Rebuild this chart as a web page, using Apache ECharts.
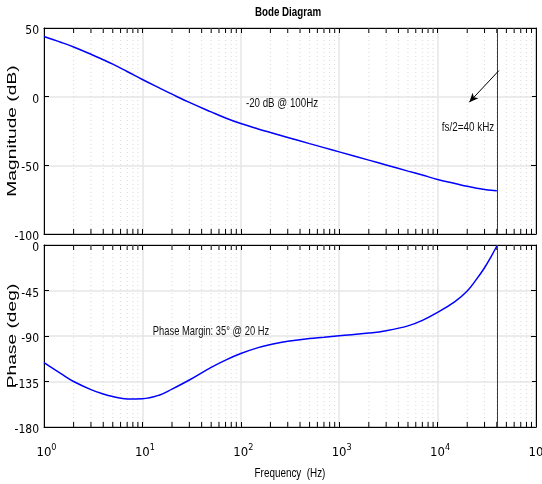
<!DOCTYPE html>
<html>
<head>
<meta charset="utf-8">
<title>Bode Diagram</title>
<script src="https://cdn.jsdelivr.net/npm/echarts@6/dist/echarts.min.js"></script>
<style>
  html, body { margin: 0; padding: 0; background: #fff; }
  #chart { width: 542px; height: 484px; }
</style>
</head>
<body>
<div id="chart"></div>
<script>
// Open-loop response of the compensated converter loop
const freqHz = [1, 1.5, 2, 3, 4, 5, 7, 10, 15, 20, 30, 50, 70, 100, 150, 200, 300, 500, 700,
  1000, 2000, 3000, 5000, 7000, 10000, 15000, 20000, 25000, 30000, 35000, 40000];
const magnitudeDb = [43.8, 39.5, 36.2, 30.9, 26.9, 23.7, 18.3, 12.5, 6.2, 1.8, -4.2, -11.1,
  -15.5, -19.6, -23.5, -26.1, -29.7, -34.2, -37.1, -40.2, -46.2, -49.7, -54.2, -57.1, -60.3,
  -63.2, -65.3, -66.7, -67.6, -68.2, -68.5];
const phaseDeg = [-116.4, -127.5, -135, -143, -147.3, -149.8, -152.2, -152, -148.3, -142.5,
  -133.5, -121, -113.8, -107.3, -101.5, -98.5, -95.2, -92.5, -91.2, -89.7, -87.1, -84.8, -80,
  -74.5, -66.6, -56, -45.5, -33.5, -22.5, -11.5, -1];

// Half the sampling rate
const nyquistHz = 40000;
// Minor log-grid positions (2..9 in every decade)
const minorFreqs = [];
for (let d = 1; d <= 10000; d *= 10) {
  for (let k = 2; k <= 9; k++) minorFreqs.push(k * d);
}

const titleText = 'Bode Diagram';
const magName = 'Magnitude (dB)';
const phaseName = 'Phase (deg)';
const freqName = 'Frequency  (Hz)';
const noteSlope = '-20 dB @ 100Hz';
const noteNyquist = 'fs/2=40 kHz';
const notePhase = 'Phase Margin: 35\u00b0 @ 20 Hz';

const tickFont = '"Liberation Sans Narrow", "DejaVu Sans Condensed", sans-serif';
const textFont = '"Liberation Sans", Arial, sans-serif';

const chart = echarts.init(document.getElementById('chart'), null, { renderer: 'canvas' });

const majorGrid = { show: true, lineStyle: { color: '#e6e6e6', width: 1.5 } };
const tick = { show: true, inside: true, length: 5, lineStyle: { color: '#000', width: 1 } };
const line = { show: true, onZero: false, lineStyle: { color: '#000', width: 1 } };

function logAxis(gridIndex, position, extra) {
  return Object.assign({
    type: 'log', logBase: 10, min: 1, max: 100000, gridIndex, position,
    axisLine: line, axisTick: tick, axisLabel: { show: false },
    splitLine: { show: false }, minorTick: { show: false }
  }, extra || {});
}
function valAxis(gridIndex, position, min, max, interval, extra) {
  return Object.assign({
    type: 'value', gridIndex, position, min, max, interval,
    axisLine: line, axisTick: tick, axisLabel: { show: false },
    splitLine: { show: false }
  }, extra || {});
}

// Value labels sit a little below their ticks
const yLabel = {
  show: true, fontFamily: tickFont, fontSize: 12, color: '#000', margin: 5,
  verticalAlign: 'top', lineHeight: 6
};

// Dotted minor grid plus inward minor ticks on top and bottom edges
function minorRender(params, api) {
  const cs = params.coordSys;
  const x = api.coord([api.value(0), api.value(1)])[0];
  const top = cs.y, bottom = cs.y + cs.height;
  return {
    type: 'group',
    children: [
      { type: 'line', shape: { x1: x, y1: top, x2: x, y2: bottom },
        style: { stroke: '#dadada', lineWidth: 1, lineDash: [1, 3] } },
      { type: 'line', shape: { x1: x, y1: top, x2: x, y2: top + 5 },
        style: { stroke: '#000', lineWidth: 1 } },
      { type: 'line', shape: { x1: x, y1: bottom, x2: x, y2: bottom - 5 },
        style: { stroke: '#000', lineWidth: 1 } }
    ]
  };
}

const curveStyle = { color: '#0000ff', width: 1.5 };

const option = {
  animation: false,
  backgroundColor: '#fff',
  grid: [
    { left: 44, top: 28, width: 492, height: 206, show: true, borderColor: '#000', borderWidth: 1,
      containLabel: false, outerBoundsMode: 'none' },
    { left: 44, top: 245, width: 492, height: 182, show: true, borderColor: '#000', borderWidth: 1,
      containLabel: false, outerBoundsMode: 'none' }
  ],
  xAxis: [
    logAxis(0, 'bottom', { splitLine: majorGrid }),
    logAxis(0, 'top'),
    logAxis(1, 'bottom', {
      splitLine: majorGrid,
      axisLabel: {
        show: true, margin: 16, padding: [0, 0, 0, 5],
        hideOverlap: false, showMaxLabel: true, showMinLabel: true,
        formatter: v => '{b|10}{e|' + Math.round(Math.log10(v)) + '}',
        rich: {
          b: { fontFamily: tickFont, fontSize: 13, color: '#000' },
          e: { fontFamily: tickFont, fontSize: 9, color: '#000', padding: [0, 0, 10, 0] }
        }
      }
    }),
    logAxis(1, 'top')
  ],
  yAxis: [
    valAxis(0, 'left', -100, 50, 50, { splitLine: majorGrid, axisLabel: yLabel }),
    valAxis(0, 'right', -100, 50, 50),
    valAxis(1, 'left', -180, 0, 45, { splitLine: majorGrid, axisLabel: yLabel }),
    valAxis(1, 'right', -180, 0, 45)
  ],
  series: [
    {
      type: 'custom', xAxisIndex: 0, yAxisIndex: 0, z: 1, silent: true,
      renderItem: minorRender, data: minorFreqs.map(f => [f, 0])
    },
    {
      type: 'custom', xAxisIndex: 2, yAxisIndex: 2, z: 1, silent: true,
      renderItem: minorRender, data: minorFreqs.map(f => [f, -90])
    },
    {
      name: 'Magnitude', type: 'line', xAxisIndex: 0, yAxisIndex: 0, z: 3,
      data: freqHz.map((f, i) => [f, magnitudeDb[i]]),
      showSymbol: false, smooth: 0.4,
      lineStyle: curveStyle,
      markLine: {
        silent: true, symbol: ['none', 'none'], label: { show: false },
        data: [
          { xAxis: nyquistHz, lineStyle: { color: '#3a3a3a', width: 1, type: 'solid' } },
          [
            { coord: [42000, 19], symbol: 'none', lineStyle: { color: '#000', width: 1, type: 'solid' } },
            { coord: [21000, -4], symbol: 'arrow', symbolSize: [6, 9] }
          ]
        ]
      }
    },
    {
      name: 'Phase', type: 'line', xAxisIndex: 2, yAxisIndex: 2, z: 3,
      data: freqHz.map((f, i) => [f, phaseDeg[i]]),
      showSymbol: false, smooth: 0.4,
      lineStyle: curveStyle,
      markLine: {
        silent: true, symbol: ['none', 'none'], label: { show: false },
        data: [{ xAxis: nyquistHz, lineStyle: { color: '#3a3a3a', width: 1, type: 'solid' } }]
      }
    }
  ],
  graphic: [
    { type: 'text', x: 288, y: 12, scaleX: 0.75, silent: true,
      style: { text: titleText, font: 'bold 13px ' + textFont, fill: '#000',
        align: 'center', verticalAlign: 'middle', textAlign: 'center', textVerticalAlign: 'middle' } },
    { type: 'text', x: 13, y: 131, rotation: Math.PI / 2, scaleX: 1.6, silent: true,
      style: { text: magName, font: '12px ' + textFont, fill: '#000',
        align: 'center', verticalAlign: 'middle', textAlign: 'center', textVerticalAlign: 'middle' } },
    { type: 'text', x: 13, y: 336, rotation: Math.PI / 2, scaleX: 1.6, silent: true,
      style: { text: phaseName, font: '12px ' + textFont, fill: '#000',
        align: 'center', verticalAlign: 'middle', textAlign: 'center', textVerticalAlign: 'middle' } },
    { type: 'text', x: 290, y: 473, scaleX: 0.76, silent: true,
      style: { text: freqName, font: '13px ' + textFont, fill: '#000',
        align: 'center', verticalAlign: 'middle', textAlign: 'center', textVerticalAlign: 'middle' } },
    { type: 'text', x: 282, y: 103, scaleX: 0.75, silent: true, z: 10,
      style: { text: noteSlope, font: '13px ' + textFont, fill: '#111',
        align: 'center', verticalAlign: 'middle', textAlign: 'center', textVerticalAlign: 'middle' } },
    { type: 'text', x: 468, y: 127, scaleX: 0.76, silent: true, z: 10,
      style: { text: noteNyquist, font: '13px ' + textFont, fill: '#111',
        align: 'center', verticalAlign: 'middle', textAlign: 'center', textVerticalAlign: 'middle' } },
    { type: 'text', x: 211, y: 331, scaleX: 0.72, silent: true, z: 10,
      style: { text: notePhase, font: '13px ' + textFont, fill: '#111',
        align: 'center', verticalAlign: 'middle', textAlign: 'center', textVerticalAlign: 'middle' } }
  ]
};

chart.setOption(option);
</script>
</body>
</html>
